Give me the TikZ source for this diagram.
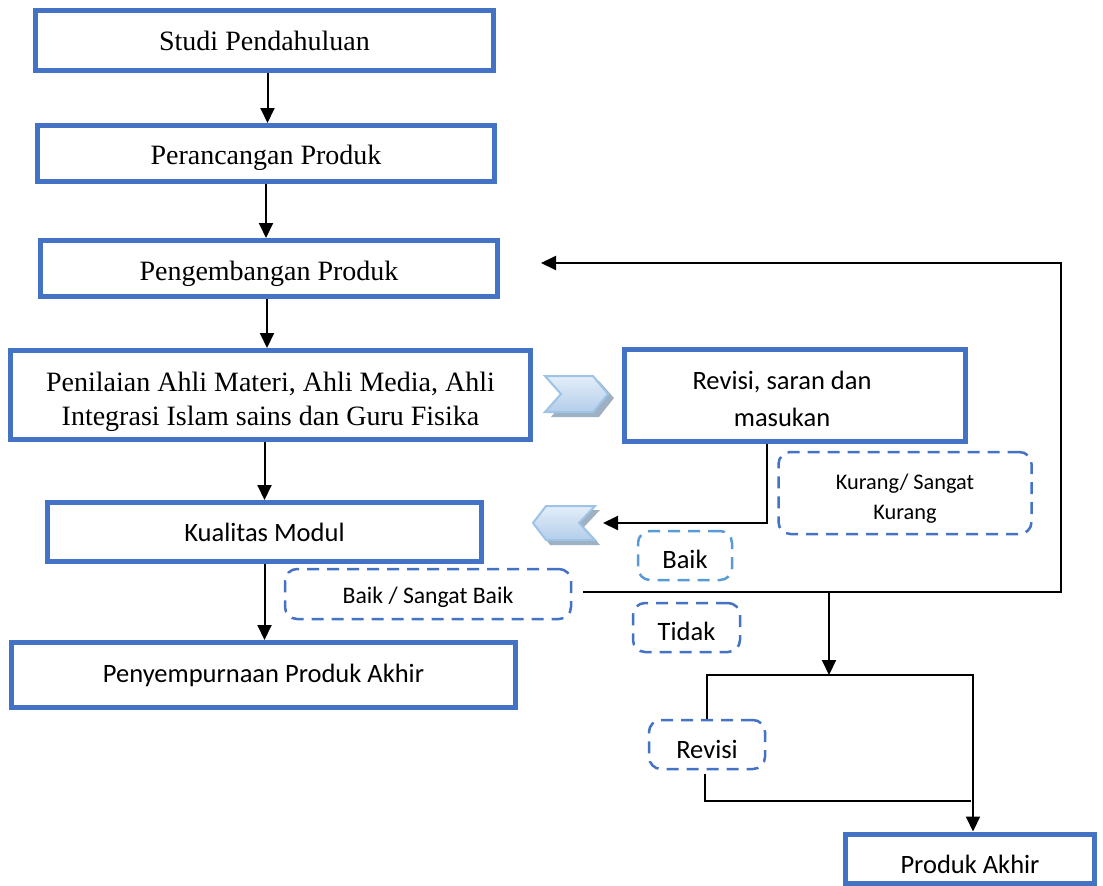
\documentclass[tikz,border=0pt]{standalone}
\usepackage{fontspec}
\setmainfont{Liberation Serif}
\newfontfamily\calibri{Carlito}
\usetikzlibrary{arrows.meta,positioning,calc}
\definecolor{boxblue}{HTML}{4472C4}
\definecolor{lightblue}{HTML}{5B9BD5}
\definecolor{chevtop}{HTML}{E3EEF9}
\definecolor{chevbottom}{HTML}{B4CDEA}
\definecolor{chevline}{HTML}{9DC3E6}
\definecolor{chevshadow}{HTML}{9FB0C2}
% push the text of a box down a little, keeping the box itself
\newcommand{\sink}[2]{\raisebox{-#1}[\height][\depth]{#2}}

\begin{document}
\begin{tikzpicture}[
  x=1pt, y=-1pt,
  box/.style={draw=boxblue, line width=5pt, align=center, inner sep=2pt, font=\fontsize{28}{34}\selectfont},
  sbox/.style={box, font=\calibri\fontsize{26.5}{37}\selectfont},
  note/.style={draw=boxblue, dash pattern=on 12pt off 8pt, line width=2.5pt, rounded corners=12pt,
    align=center, inner sep=2pt, font=\calibri\fontsize{26.5}{30}\selectfont},
  arrow/.style={-{Triangle[width=14pt,length=15pt]}, line width=2pt},
  line/.style={line width=2pt},
  chev/.style={draw=chevline, line width=2pt, top color=chevtop, bottom color=chevbottom},
  chevshade/.style={fill=chevshadow}
]
\useasboundingbox (0,0) rectangle (1103,886);

% main column
\node[box, minimum width=458pt, minimum height=60pt] (studi) at (264.5,40.5) {Studi Pendahuluan};
\node[box, minimum width=457pt, minimum height=56pt] (rancang) at (266,153.5) {\sink{4pt}{Perancangan Produk}};
\node[box, minimum width=457pt, minimum height=56pt] (kembang) at (269,268.5) {\sink{5pt}{Pengembangan Produk}};
\node[box, minimum width=520pt, minimum height=89pt] (nilai) at (270.5,395)
  {\sink{7pt}{\begin{tabular}{@{}c@{}}Penilaian Ahli Materi, Ahli Media, Ahli\\Integrasi Islam sains dan Guru Fisika\end{tabular}}};
\node[sbox, minimum width=434pt, minimum height=59pt] (kualitas) at (264.5,532) {Kualitas Modul};
\node[sbox, minimum width=504pt, minimum height=65pt] (sempurna) at (263.5,675) {Penyempurnaan Produk Akhir};

% right side
\node[sbox, minimum width=341pt, minimum height=92pt] (revsaran) at (795,395.5)
  {\sink{5pt}{\begin{tabular}{@{}c@{}}Revisi, saran dan\\masukan\end{tabular}\hspace*{26pt}}};
\node[sbox, minimum width=249pt, minimum height=49pt] (produk) at (970,858.5) {\sink{6pt}{Produk Akhir}};

% dashed labels
\node[note, minimum width=253pt, minimum height=82pt, font=\calibri\fontsize{22.3}{30}\selectfont] (kurang) at (905,493)
  {\sink{5pt}{\begin{tabular}{@{}c@{}}Kurang/ Sangat\\Kurang\end{tabular}}};
\node[note, draw=lightblue, minimum width=94pt, minimum height=49pt] (baik) at (685,555.5) {\sink{4pt}{Baik}};
\node[note, minimum width=286pt, minimum height=50pt, font=\calibri\fontsize{23.7}{30}\selectfont] (baiksb) at (428,594)
  {\sink{3pt}{Baik / Sangat Baik}};
\node[note, minimum width=107pt, minimum height=49pt] (tidak) at (686.5,627.5) {\sink{4pt}{Tidak}};
\node[note, minimum width=116pt, minimum height=49pt] (revisi) at (707,744.5) {\sink{5pt}{Revisi}};

% chevrons
\fill[chevshade] (551,381) -- (599,381) -- (614,398) -- (599,417) -- (551,417) -- (567,398) -- cycle;
\draw[chev] (545,376) -- (593,376) -- (608,394) -- (593,412) -- (545,412) -- (561,394) -- cycle;
\fill[chevshade] (550,510) -- (600,510) -- (584,527) -- (600,545) -- (550,545) -- (537,527) -- cycle;
\draw[chev] (546,506) -- (595,506) -- (579,523) -- (595,540) -- (546,540) -- (533,523) -- cycle;

\coordinate (chevL) at (603,523);
\coordinate (fbstart) at (583,592);
\coordinate (fbend) at (541,263);
\coordinate (split) at (829,592);
\coordinate (brtop) at (829,675);
\coordinate (brright) at (973,675);

\draw[arrow] ($(studi.south)+(3,0)$) -- ($(studi.south |- rancang.north)+(3,0)$);
\draw[arrow] (rancang.south) -- (rancang.south |- kembang.north);
\draw[arrow] ($(kembang.south)+(-2,0)$) -- ($(kembang.south |- nilai.north)+(-2,0)$);
\draw[arrow] ($(nilai.south)+(-6,0)$) -- ($(nilai.south |- kualitas.north)+(-6,0)$);
\draw[arrow] (kualitas.south) -- (kualitas.south |- sempurna.north);

\draw[arrow] ($(revsaran.south)+(-28,0)$) |- (chevL);
\draw[arrow] (fbstart) -- (1061,592) |- (fbend);
\draw[arrow] (split) -- (brtop);
\draw[arrow] (revisi.north) |- (brright) -- (brright |- produk.north);
\draw[line] ($(revisi.south)+(-2,4)$) -- ++(0,27) -- ++(266,0);

\end{tikzpicture}
\end{document}
